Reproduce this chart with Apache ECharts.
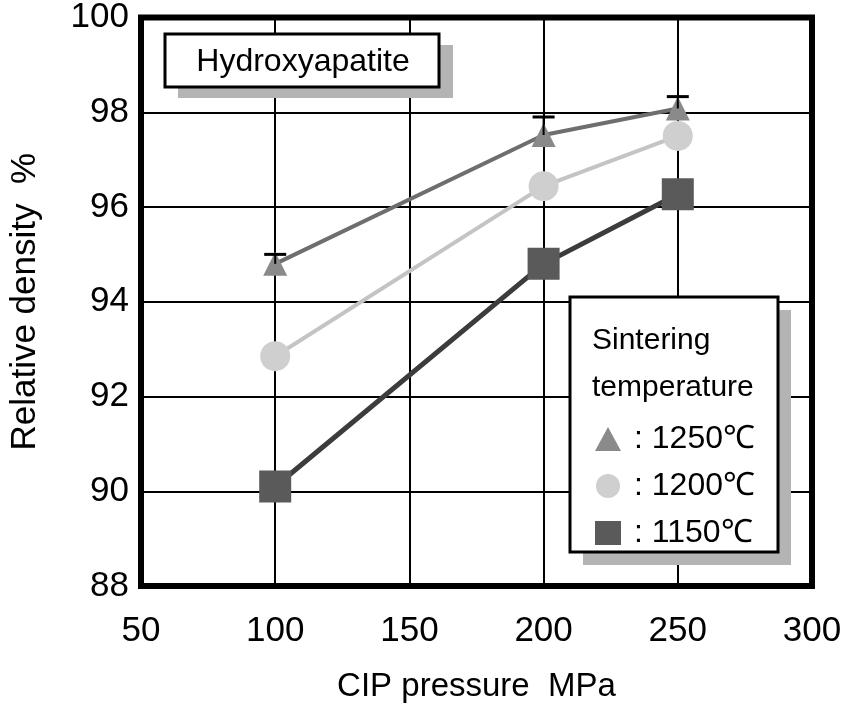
<!DOCTYPE html>
<html>
<head>
<meta charset="utf-8">
<script src="https://cdn.jsdelivr.net/npm/echarts@6/dist/echarts.min.js"></script>
<style>
  html, body { margin: 0; padding: 0; background: #fff; }
  #chart { width: 846px; height: 708px; }
</style>
</head>
<body>
<div id="chart"></div>
<script>
// CIP pressure (MPa)
const pressure = [100, 200, 250]
// relative density (%) per sintering temperature
const dens1250 = [94.8, 97.52, 98.08]
const dens1200 = [92.85, 96.44, 97.5]
const dens1150 = [90.1, 94.8, 96.27]
// upper end of the error bars for 1250℃
const err1250 = [95.0, 97.9, 98.33]

const xTicks = [50, 100, 150, 200, 250, 300]
const yTicks = [88, 90, 92, 94, 96, 98, 100]

const FONT = '"Liberation Sans", Arial, sans-serif'

const chart = echarts.init(document.getElementById('chart'))

const errData = pressure.map((p, i) => [p, dens1250[i], err1250[i]])

const option = {
  animation: false,
  grid: {
    left: 140, right: 34, top: 16, bottom: 118,
    show: true, borderColor: '#000', borderWidth: 6, backgroundColor: '#fff'
  },
  xAxis: {
    type: 'value',
    min: xTicks[0], max: xTicks[xTicks.length - 1], interval: 50,
    name: 'CIP pressure  MPa', nameLocation: 'middle', nameGap: 84,
    nameTextStyle: { fontFamily: FONT, fontSize: 33, color: '#000' },
    axisLine: { show: false },
    axisTick: { show: false },
    axisLabel: { fontFamily: FONT, fontSize: 35, color: '#000', margin: 28 },
    splitLine: { show: true, lineStyle: { color: '#000', width: 2 } }
  },
  yAxis: {
    type: 'value',
    min: yTicks[0], max: yTicks[yTicks.length - 1], interval: 2,
    name: 'Relative density  %', nameLocation: 'middle', nameGap: 98,
    nameTextStyle: { fontFamily: FONT, fontSize: 35, color: '#000' },
    axisLine: { show: false },
    axisTick: { show: false },
    axisLabel: { fontFamily: FONT, fontSize: 35, color: '#000', margin: 12 },
    splitLine: { show: true, lineStyle: { color: '#000', width: 2 } }
  },
  legend: {
    orient: 'vertical',
    left: 590, top: 418,
    z: 120,
    itemWidth: 26, itemHeight: 24, itemGap: 15,
    formatter: ': {name}',
    textStyle: { fontFamily: FONT, fontSize: 32, color: '#000', padding: [0, 0, 0, 8] },
    data: [
      { name: '1250℃', icon: 'triangle', itemStyle: { color: '#8a8a8a' } },
      { name: '1200℃', icon: 'circle', itemStyle: { color: '#cfcfcf' } },
      { name: '1150℃', icon: 'rect', itemStyle: { color: '#5a5a5a' } }
    ]
  },
  graphic: [
    { type: 'rect', shape: { x: 178, y: 45, width: 275, height: 53 }, style: { fill: '#b4b4b4' }, z: 100 },
    { type: 'rect', shape: { x: 165, y: 34, width: 274, height: 53 }, style: { fill: '#fff', stroke: '#000', lineWidth: 3 }, z: 101 },
    { type: 'text', x: 303, y: 62, style: { text: 'Hydroxyapatite', font: '32px ' + FONT, fill: '#000', align: 'center', verticalAlign: 'middle' }, z: 102 },
    { type: 'rect', shape: { x: 583, y: 310, width: 208, height: 255 }, style: { fill: '#b4b4b4' }, z: 100 },
    { type: 'rect', shape: { x: 570, y: 297, width: 208, height: 255 }, style: { fill: '#fff', stroke: '#000', lineWidth: 3 }, z: 101 },
    { type: 'text', x: 592, y: 341, style: { text: 'Sintering', font: '30px ' + FONT, fill: '#000', verticalAlign: 'middle' }, z: 102 },
    { type: 'text', x: 592, y: 388, style: { text: 'temperature', font: '30px ' + FONT, fill: '#000', verticalAlign: 'middle' }, z: 102 }
  ],
  series: [
    {
      name: '1250℃', type: 'line',
      data: pressure.map((p, i) => [p, dens1250[i]]),
      symbol: 'triangle', symbolSize: 24,
      lineStyle: { color: '#6e6e6e', width: 4 },
      itemStyle: { color: '#8a8a8a' }, z: 4
    },
    {
      name: '1200℃', type: 'line',
      data: pressure.map((p, i) => [p, dens1200[i]]),
      symbol: 'circle', symbolSize: 30,
      lineStyle: { color: '#c4c4c4', width: 4 },
      itemStyle: { color: '#cfcfcf' }, z: 3
    },
    {
      name: '1150℃', type: 'line',
      data: pressure.map((p, i) => [p, dens1150[i]]),
      symbol: 'rect', symbolSize: 32,
      lineStyle: { color: '#3c3c3c', width: 5 },
      itemStyle: { color: '#5a5a5a' }, z: 2
    },
    {
      name: 'error', type: 'custom',
      data: errData, z: 5,
      renderItem: (params, api) => {
        const base = api.coord([api.value(0), api.value(1)])
        const top = api.coord([api.value(0), api.value(2)])
        return {
          type: 'group',
          children: [
            { type: 'line', shape: { x1: base[0], y1: base[1], x2: top[0], y2: top[1] }, style: { stroke: '#000', lineWidth: 2 } },
            { type: 'line', shape: { x1: top[0] - 11, y1: top[1], x2: top[0] + 11, y2: top[1] }, style: { stroke: '#000', lineWidth: 3 } }
          ]
        }
      }
    }
  ]
}

chart.setOption(option)
</script>
</body>
</html>
